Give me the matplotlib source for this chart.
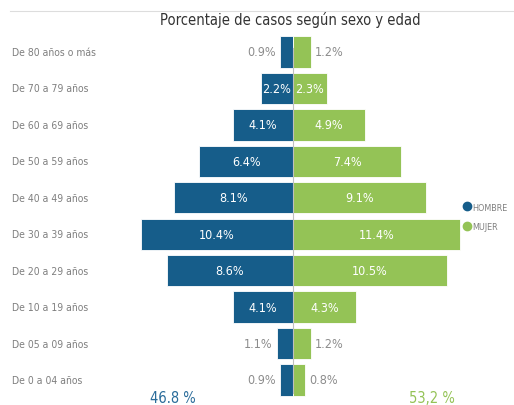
import matplotlib.pyplot as plt
from matplotlib.lines import Line2D
import numpy as np

plt.rcParams['font.family'] = ['DejaVu Sans']
plt.rcParams['font.stretch'] = 'condensed'

# Data
grupos = ['De 80 años o más', 'De 70 a 79 años', 'De 60 a 69 años', 'De 50 a 59 años',
          'De 40 a 49 años', 'De 30 a 39 años', 'De 20 a 29 años', 'De 10 a 19 años',
          'De 05 a 09 años', 'De 0 a 04 años']
hombre = [0.9, 2.2, 4.1, 6.4, 8.1, 10.4, 8.6, 4.1, 1.1, 0.9]
mujer = [1.2, 2.3, 4.9, 7.4, 9.1, 11.4, 10.5, 4.3, 1.2, 0.8]
total_hombre = '46.8 %'
total_mujer = '53,2 %'

c_h = '#165d8a'
c_m = '#94c356'
c_txt = '#8c8c8c'

fig = plt.figure(figsize=(5.14, 4.06), dpi=100)
ax = fig.add_axes([0, 0, 1, 1])
y = np.arange(len(grupos))

ax.barh(y, [-v for v in hombre], height=0.86, color=c_h, edgecolor='white', linewidth=0.6)
ax.barh(y, mujer, height=0.86, color=c_m, edgecolor='white', linewidth=0.6)
ax.axvline(0, color='#bfbfbf', lw=0.8, ymin=0.03, ymax=0.88)

for i, (h, m) in enumerate(zip(hombre, mujer)):
    if h >= 2:
        ax.text(-h / 2, i, f'{h}%', color='white', ha='center', va='center', fontsize=9)
    else:
        ax.text(-h - 0.3, i, f'{h}%', color=c_txt, ha='right', va='center', fontsize=9)
    if m >= 2:
        ax.text(m / 2, i, f'{m}%', color='white', ha='center', va='center', fontsize=9)
    else:
        ax.text(m + 0.3, i, f'{m}%', color=c_txt, ha='left', va='center', fontsize=9)
    ax.text(-19.2, i, grupos[i], color='#7f7f7f', ha='left', va='center', fontsize=7.5)

ax.set_xlim(-20.0, 15.09)
ax.set_ylim(9.687, -1.454)
ax.axis('off')

fig.text(290 / 514, 1 - 20 / 406, 'Porcentaje de casos según sexo y edad',
         ha='center', va='center', fontsize=10.5, color='#333333')
fig.add_artist(Line2D([10 / 514, 1], [1 - 12 / 406] * 2, color='#dddddd', lw=0.8))

fig.text(173 / 514, 1 - 399 / 406, total_hombre, ha='center', va='center', fontsize=10.5, color='#2a6c9a')
fig.text(432 / 514, 1 - 399 / 406, total_mujer, ha='center', va='center', fontsize=10.5, color=c_m)

handles = [Line2D([], [], marker='o', ls='', color=c_h, markersize=6),
           Line2D([], [], marker='o', ls='', color=c_m, markersize=6)]
fig.legend(handles, ['HOMBRE', 'MUJER'], loc='center left', bbox_to_anchor=(462 / 514, 1 - 218 / 406),
           frameon=False, fontsize=6.5, labelcolor='#7f7f7f', handletextpad=0.1,
           labelspacing=1.2, handlelength=1.0, borderaxespad=0, borderpad=0)

fig.savefig('out.png', dpi=100)
